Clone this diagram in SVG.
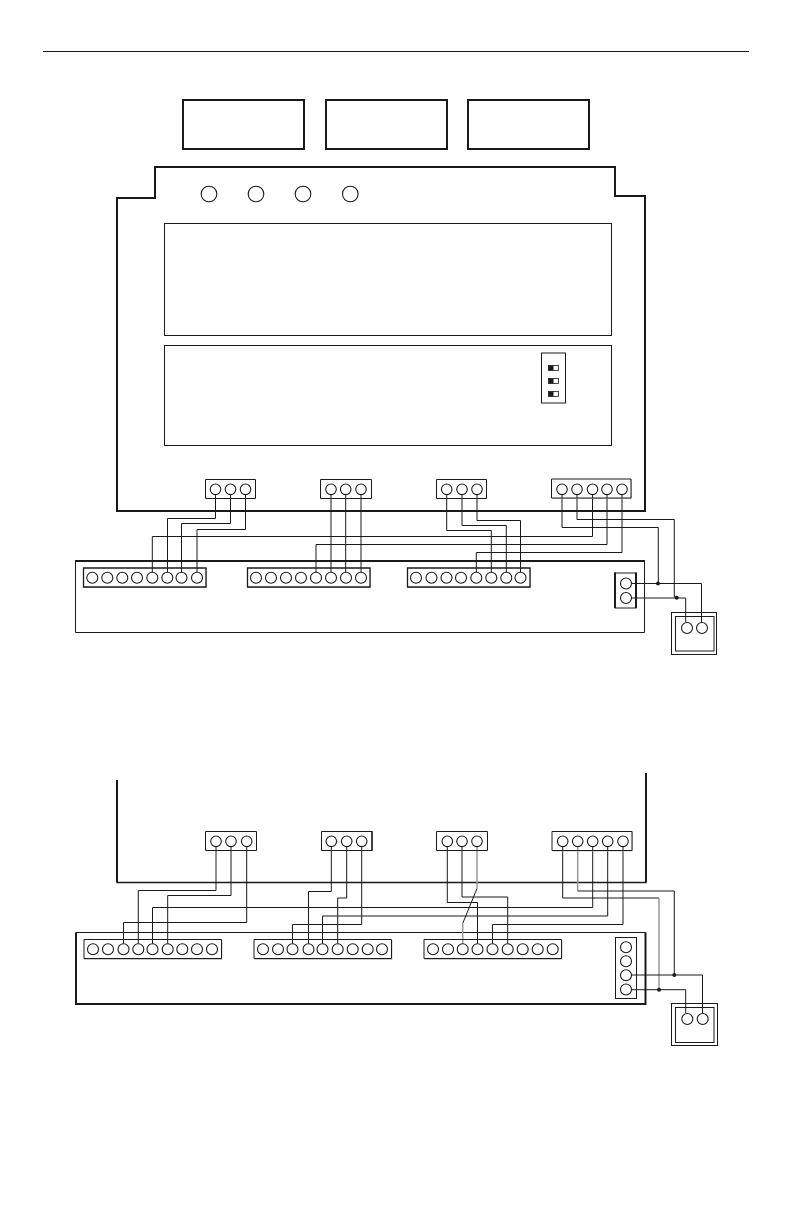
<svg xmlns="http://www.w3.org/2000/svg" width="792" height="1224" viewBox="0 0 792 1224">
<style>
.b{fill:none;stroke:#1a1a1a;stroke-width:1}
.m{fill:none;stroke:#1a1a1a;stroke-width:1.3}
.h{fill:none;stroke:#1a1a1a;stroke-width:2}
.sh{fill:none;stroke:#bbb;stroke-width:.8}
.c{fill:#fff;stroke:#1a1a1a;stroke-width:1.1}
.l{fill:#fff;stroke:#1a1a1a;stroke-width:1.1}
.w{fill:none;stroke:#1a1a1a;stroke-width:1}
.g{fill:none;stroke:#999;stroke-width:1.5}
.d{fill:#1a1a1a}
.sw{fill:#fff;stroke:#1a1a1a;stroke-width:.8}
</style>
<rect width="792" height="1224" fill="#fff"/>
<line id="top-rule" x1="43" y1="51.5" x2="749" y2="51.5" class="b"/>
<g id="display-1"><rect x="183" y="100" width="121" height="49" class="h"/></g>
<g id="display-2"><rect x="326" y="100" width="121" height="49" class="h"/></g>
<g id="display-3"><rect x="468" y="100" width="121" height="49" class="h"/></g>
<g id="housing-top"><path d="M117 511V198H155V167H615V196H645V511Z" class="h"/></g>
<g id="leds"><circle cx="209" cy="194" r="7.800" class="l"/><circle cx="256" cy="194" r="7.800" class="l"/><circle cx="303" cy="194" r="7.800" class="l"/><circle cx="350.300" cy="194" r="7.800" class="l"/></g>
<g id="panel-1"><rect x="164.500" y="223.500" width="447" height="112" class="b"/></g>
<g id="panel-2"><rect x="164.500" y="345.500" width="447" height="100" class="b"/></g>
<g id="dip-switch"><rect x="541.500" y="353" width="24" height="50" class="b"/>
<rect x="548.500" y="365.500" width="10" height="5" class="sw"/><rect x="548.500" y="365.500" width="5" height="5" class="d"/>
<rect x="548.500" y="378.500" width="10" height="5" class="sw"/><rect x="548.500" y="378.500" width="5" height="5" class="d"/>
<rect x="548.500" y="391.500" width="10" height="5" class="sw"/><rect x="548.500" y="391.500" width="5" height="5" class="d"/></g>
<g id="lower-box-1"><path d="M75.500 561H644.500V632.500H75.500Z" class="b"/><line x1="75" y1="561" x2="645" y2="561" class="h"/></g>
<g id="housing-bottom"><path d="M117 780V882.500H646V773" class="m"/><line x1="117" y1="780" x2="117" y2="882" class="h"/><line x1="646" y1="773" x2="646" y2="882" class="h"/></g>
<g id="lower-box-2"><path d="M76 1004V932.500H645.500V1004Z" class="b"/><path d="M76 932.500V1004H645.500V932.500" class="h"/></g>

<g id="connectors">
<path class="w" d="M215.500 495V518.500H167.500V572M230.500 495V523.500H181.500V572M245.500 495V529.500H197V572"/>
<path class="w" d="M331 495V572M345.700 495V572M361 495V572"/>
<path class="w" d="M446.700 495V530.500H491.300V572M462 495V525.500H506.300V572M477 495V520.500H520.500V572"/>
<path class="w" d="M562 495V527.500H658.300V583.500M577 495V519.500H674.300V597.500"/>
<path class="w" d="M592.500 495V536.500H152.300V572M607 495V544.500H316V572M622 495V552.500H476.300V572"/>
<path class="w" d="M631 583.500H701.500V622M631 598H685.700V622"/>
<circle class="d" cx="658" cy="583.500" r="2"/><circle class="d" cx="676.700" cy="597.800" r="2"/>
<path class="w" d="M216 846V890.500H138.300V944M231 846V895.500H167.700V944M246.700 846V922.500H123.500V944"/>
<path class="w" d="M331.300 846V891.500H308.500V944M346.700 846V898H337.700V944M361.700 846V924.500H292.500V944"/>
<path class="w" d="M447.300 846V902.500H477.500V944M462 846V897H507.700V944"/>
<path class="g" d="M477 846V888.500"/><path class="b" d="M477 888.500L462.700 923.500"/><path class="g" d="M462.700 923.500V944"/>
<path class="w" d="M562.700 846V898H659"/><path class="g" d="M659 898V989.500"/>
<path class="g" d="M577.700 846V891"/><path class="w" d="M577.700 891H674.300V975"/>
<path class="w" d="M592.700 846V907.500H152.500V944M607.700 846V916H322.500V944M623 846V924.500H492.500V944"/>
<path class="w" d="M631 975H702.500V1013M631 989.700H685.700V1013"/>
<circle class="d" cx="674.300" cy="975" r="2"/><circle class="d" cx="659" cy="989.700" r="2"/>
</g>

<g id="block-a1"><path class="b" d="M205.500 479.500H255.500V498.500H205.500Z"/><circle class="c" cx="215.500" cy="489.300" r="5.300"/><circle class="c" cx="230.500" cy="489.300" r="5.300"/><circle class="c" cx="245.500" cy="489.300" r="5.300"/></g>
<g id="block-a2"><path class="b" d="M320.500 479.500H371.500V498.500H320.500Z"/><circle class="c" cx="331" cy="489.300" r="5.300"/><circle class="c" cx="345.700" cy="489.300" r="5.300"/><circle class="c" cx="361" cy="489.300" r="5.300"/></g>
<g id="block-a3"><path class="b" d="M436.500 479.500H486.500V498.500H436.500Z"/><circle class="c" cx="446.700" cy="489.300" r="5.300"/><circle class="c" cx="462" cy="489.300" r="5.300"/><circle class="c" cx="477" cy="489.300" r="5.300"/></g>
<g id="block-a4"><path class="sh" d="M552 498.500H631.500V479.500"/><path class="b" d="M551.500 479H631V498H551.500Z"/><circle class="c" cx="562" cy="489.300" r="5.300"/><circle class="c" cx="577" cy="489.300" r="5.300"/><circle class="c" cx="592.500" cy="489.300" r="5.300"/><circle class="c" cx="607" cy="489.300" r="5.300"/><circle class="c" cx="622" cy="489.300" r="5.300"/></g>

<g id="strip-a1"><path class="sh" d="M84 587.500H206.500V568"/><path class="m" d="M83.500 568H206V587H83.500Z"/><circle class="c" cx="92.300" cy="577.700" r="5.500"/><circle class="c" cx="107.300" cy="577.700" r="5.500"/><circle class="c" cx="122.300" cy="577.700" r="5.500"/><circle class="c" cx="137" cy="577.700" r="5.500"/><circle class="c" cx="152.300" cy="577.700" r="5.500"/><circle class="c" cx="167.300" cy="577.700" r="5.500"/><circle class="c" cx="181.500" cy="577.700" r="5.500"/><circle class="c" cx="197" cy="577.700" r="5.500"/></g>
<g id="strip-a2"><path class="sh" d="M248 587.500H370.500V568"/><path class="m" d="M247.500 568H370V587H247.500Z"/><circle class="c" cx="256" cy="577.700" r="5.500"/><circle class="c" cx="271" cy="577.700" r="5.500"/><circle class="c" cx="286" cy="577.700" r="5.500"/><circle class="c" cx="301" cy="577.700" r="5.500"/><circle class="c" cx="316" cy="577.700" r="5.500"/><circle class="c" cx="331" cy="577.700" r="5.500"/><circle class="c" cx="346" cy="577.700" r="5.500"/><circle class="c" cx="361" cy="577.700" r="5.500"/></g>
<g id="strip-a3"><path class="sh" d="M408 587.500H530.500V568"/><path class="m" d="M407.500 568H530V587H407.500Z"/><circle class="c" cx="416" cy="577.700" r="5.500"/><circle class="c" cx="431.500" cy="577.700" r="5.500"/><circle class="c" cx="446.500" cy="577.700" r="5.500"/><circle class="c" cx="461" cy="577.700" r="5.500"/><circle class="c" cx="476.300" cy="577.700" r="5.500"/><circle class="c" cx="491.300" cy="577.700" r="5.500"/><circle class="c" cx="506.300" cy="577.700" r="5.500"/><circle class="c" cx="520.500" cy="577.700" r="5.500"/></g>
<g id="terminal-a"><rect x="615" y="573" width="21" height="35" class="b"/><path class="h" d="M615 572.500V608M636 572.500V608"/><circle class="c" cx="626" cy="583.500" r="5.500"/><circle class="c" cx="626" cy="598" r="5.500"/></g>
<g id="sensor-a"><rect x="671.500" y="612.500" width="45" height="42" class="b"/><rect x="675.500" y="616.500" width="38.500" height="34.500" class="b"/><circle class="c" cx="687" cy="628" r="5.500"/><circle class="c" cx="702" cy="628" r="5.500"/></g>

<g id="block-b1"><path class="b" d="M205.500 831.500H256.500V850.500H205.500Z"/><circle class="c" cx="216" cy="841.300" r="5.300"/><circle class="c" cx="231" cy="841.300" r="5.300"/><circle class="c" cx="246.700" cy="841.300" r="5.300"/></g>
<g id="block-b2"><path class="b" d="M321.500 831.500H372V850.500H321.500Z"/><line class="m" x1="372" y1="831" x2="372" y2="851"/><circle class="c" cx="331.300" cy="841.300" r="5.300"/><circle class="c" cx="346.700" cy="841.300" r="5.300"/><circle class="c" cx="361.700" cy="841.300" r="5.300"/></g>
<g id="block-b3"><path class="b" d="M436.500 831.500H487.500V850.500H436.500Z"/><circle class="c" cx="447.300" cy="841.300" r="5.300"/><circle class="c" cx="462" cy="841.300" r="5.300"/><circle class="c" cx="477" cy="841.300" r="5.300"/></g>
<g id="block-b4"><path class="sh" d="M552.500 851H632.500V831.500"/><path class="b" d="M552 831.500H632V850.500H552Z"/><circle class="c" cx="562.700" cy="841.300" r="5.300"/><circle class="c" cx="577.700" cy="841.300" r="5.300"/><circle class="c" cx="592.700" cy="841.300" r="5.300"/><circle class="c" cx="607.700" cy="841.300" r="5.300"/><circle class="c" cx="623" cy="841.300" r="5.300"/></g>

<g id="strip-b1"><path class="sh" d="M84.500 959.500H222V940"/><path class="b" d="M84 939.500H221.500V958.500H84Z"/><circle class="c" cx="93" cy="949.300" r="5.500"/><circle class="c" cx="108" cy="949.300" r="5.500"/><circle class="c" cx="123.500" cy="949.300" r="5.500"/><circle class="c" cx="138.300" cy="949.300" r="5.500"/><circle class="c" cx="152.500" cy="949.300" r="5.500"/><circle class="c" cx="167.700" cy="949.300" r="5.500"/><circle class="c" cx="182.300" cy="949.300" r="5.500"/><circle class="c" cx="197" cy="949.300" r="5.500"/><circle class="c" cx="212" cy="949.300" r="5.500"/></g>
<g id="strip-b2"><path class="sh" d="M254.500 959.500H392V940"/><path class="b" d="M254 939.500H391.500V958.500H254Z"/><circle class="c" cx="263" cy="949.300" r="5.500"/><circle class="c" cx="278" cy="949.300" r="5.500"/><circle class="c" cx="292.500" cy="949.300" r="5.500"/><circle class="c" cx="308.500" cy="949.300" r="5.500"/><circle class="c" cx="322.500" cy="949.300" r="5.500"/><circle class="c" cx="337.700" cy="949.300" r="5.500"/><circle class="c" cx="352.700" cy="949.300" r="5.500"/><circle class="c" cx="367.700" cy="949.300" r="5.500"/><circle class="c" cx="382" cy="949.300" r="5.500"/></g>
<g id="strip-b3"><path class="sh" d="M424.500 959.500H562V940"/><path class="b" d="M424 939.500H561.500V958.500H424Z"/><circle class="c" cx="433" cy="949.300" r="5.500"/><circle class="c" cx="448" cy="949.300" r="5.500"/><circle class="c" cx="462.700" cy="949.300" r="5.500"/><circle class="c" cx="477.500" cy="949.300" r="5.500"/><circle class="c" cx="492.500" cy="949.300" r="5.500"/><circle class="c" cx="507.700" cy="949.300" r="5.500"/><circle class="c" cx="522.700" cy="949.300" r="5.500"/><circle class="c" cx="537.700" cy="949.300" r="5.500"/><circle class="c" cx="552.700" cy="949.300" r="5.500"/></g>
<g id="terminal-b"><rect x="615.500" y="937.500" width="21" height="61" class="b"/><circle class="c" cx="626" cy="947.300" r="5.500"/><circle class="c" cx="626" cy="961.300" r="5.500"/><circle class="c" cx="626" cy="975.300" r="5.500"/><circle class="c" cx="626" cy="989.500" r="5.500"/></g>
<g id="sensor-b"><rect x="671.500" y="1003.500" width="46" height="42" class="b"/><rect x="675.500" y="1007.500" width="38.500" height="35" class="b"/><circle class="c" cx="687.300" cy="1019" r="5.500"/><circle class="c" cx="702.700" cy="1019" r="5.500"/></g>
</svg>
